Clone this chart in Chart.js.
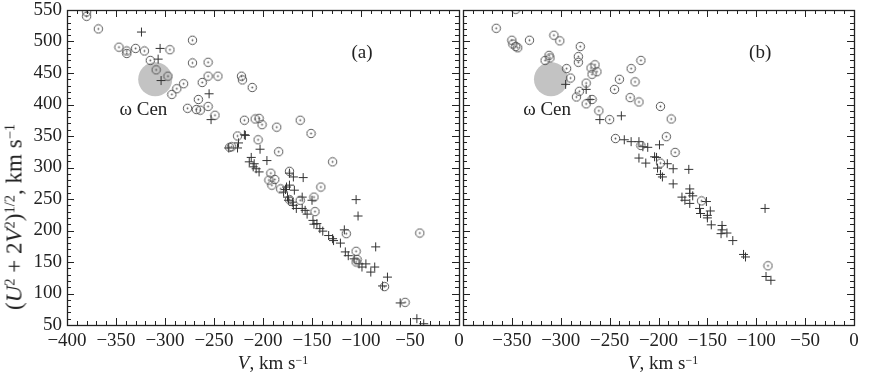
<!DOCTYPE html>
<html><head><meta charset="utf-8">
<script src="https://cdn.jsdelivr.net/npm/chart.js@4"></script>
<style>
body{margin:0;background:#fff;}
#wrap{position:relative;width:871px;height:377px;overflow:hidden;background:#fff;}
canvas{position:absolute;top:-7px;}
.t{position:absolute;font-family:'Liberation Serif','DejaVu Serif',serif;font-size:19px;color:#222;white-space:nowrap;line-height:1;}
.t sup{font-size:0.63em;position:relative;top:-0.45em;vertical-align:baseline;}
</style></head>
<body>
<div id="wrap">
<canvas id="ca" width="480" height="384" style="left:0"></canvas>
<canvas id="cb" width="430" height="384" style="left:441px"></canvas>
<div class="t" id="ytitle" style="left:14px;top:217px;transform:translate(-50%,-50%) rotate(-90deg);font-size:23px;">(<i>U</i><sup>2</sup> + 2<i>V</i><sup>2</sup>)<sup>1/2</sup>, km s<sup>−1</sup></div>
<div class="t" style="left:273px;top:362px;transform:translate(-50%,-50%);"><i>V</i>, km s<sup>−1</sup></div>
<div class="t" style="left:663px;top:362px;transform:translate(-50%,-50%);"><i>V</i>, km s<sup>−1</sup></div>
</div>
<script>
// ---------- data (V, (U^2+2V^2)^1/2 in km/s) ----------
const xTicks = [-400,-350,-300,-250,-200,-150,-100,-50,0];
const yTicks = [50,100,150,200,250,300,350,400,450,500,550];

const omegaCen = {V:-310, S:440};

// panel (a)
const aCircV = [-380,-380,-368,-347,-339,-339,-330,-321,-315,-309,-297,-295,-293,-288,-281,-272,-272,-277,-268,-264,-266,-262,-256,-256,-256,-249,-246,-222,-221,-211,-219,-208,-204,-201,-205,-226,-234,-186,-184,-162,-151,-129,-173,-192,-194,-188,-191,-182,-173,-162,-141,-148,-147,-115,-105,-104,-105,-76,-55,-40,-232];
const aCircS = [547,540,520,491,485,481,489,485,470,455,445,487,416,425,433,502,466,394,392,391,408,435,467,445,397,383,445,445,439,427,375,377,378,368,344,350,332,364,325,375,354,309,294,291,280,281,272,266,249,248,269,253,230,195,167,154,150,111,86,196,333];
const aPlusV = [-324,-305,-307,-304,-255,-253,-235,-226,-225,-219,-218,-203,-212,-214,-209,-207,-204,-210,-196,-173,-169,-159,-177,-179,-176,-173,-168,-175,-174,-170,-169,-166,-160,-160,-157,-150,-155,-149,-148,-145,-142,-139,-133,-129,-128,-121,-117,-105,-103,-116,-113,-107,-102,-99,-95,-90,-86,-85,-73,-78,-60,-43,-36];
const aPlusS = [515,489,472,438,417,376,331,331,339,352,351,329,316,309,306,298,293,301,311,291,285,284,265,261,269,272,264,253,248,245,240,235,253,235,232,248,226,216,210,211,203,199,192,187,184,180,201,249,223,166,160,155,147,142,147,134,142,174,126,112,85,60,52];

// panel (b)
const bCircV = [-346,-366,-350,-349,-346,-344,-332,-307,-301,-312,-311,-316,-280,-282,-282,-294,-290,-265,-269,-263,-268,-274,-281,-284,-274,-268,-261,-250,-240,-245,-228,-224,-229,-220,-218,-198,-187,-192,-183,-244,-218,-198,-156,-88];
const bCircS = [551,521,502,496,492,490,502,510,501,478,474,470,492,476,467,457,442,463,458,452,448,434,421,412,401,408,390,376,440,424,457,436,411,404,470,397,377,349,324,346,335,307,247,144];
const bPlusV = [-295,-274,-270,-260,-238,-235,-228,-220,-216,-211,-199,-220,-213,-204,-202,-191,-201,-198,-196,-185,-185,-169,-168,-168,-165,-176,-173,-168,-151,-158,-157,-150,-147,-150,-146,-135,-135,-130,-136,-124,-113,-111,-91,-90,-85];
const bPlusS = [432,424,408,376,382,344,341,341,333,332,336,315,307,317,316,306,299,289,285,298,274,297,266,259,255,253,248,243,246,235,227,224,231,220,209,208,201,196,195,184,162,158,235,127,121];

// annotation anchors (data coords)
const labelA = {text:'(a)', V:-99, S:481};
const labelB = {text:'(b)', V:-96, S:481};
const cenA = {V:-322, S:391};
const cenB = {V:-314, S:391};

// ---------- drawing ----------
const FONT = "'Liberation Serif','DejaVu Serif',serif";
const mk = (v,s) => v.map((x,i)=>({x:x, y:s[i]}));

const ring = document.createElement('canvas');
ring.width = 11; ring.height = 11;
(function(){
  const c = ring.getContext('2d');
  c.strokeStyle = '#555'; c.lineWidth = 1;
  c.beginPath(); c.arc(5.5,5.5,4.2,0,2*Math.PI); c.stroke();
  c.fillStyle = '#555';
  c.beginPath(); c.arc(5.5,5.5,0.9,0,2*Math.PI); c.fill();
})();

const framePlugin = {
  id:'frame',
  afterDraw(chart, args, o){
    const ctx = chart.ctx, a = chart.chartArea, xs = chart.scales.x, ys = chart.scales.y;
    ctx.save();
    ctx.strokeStyle = '#222'; ctx.lineWidth = 1;
    const line=(x1,y1,x2,y2)=>{ctx.beginPath();ctx.moveTo(x1,y1);ctx.lineTo(x2,y2);ctx.stroke();};
    for (let v = xTicks[0]; v <= xTicks[xTicks.length-1]; v += 10){
      const px = Math.round(xs.getPixelForValue(v)) + 0.5;
      const L = (v % 50 === 0) ? 7 : 4;
      line(px, a.top, px, a.top + L);
      line(px, a.bottom, px, a.bottom - L);
    }
    for (let v = yTicks[0]; v <= yTicks[yTicks.length-1]; v += 10){
      const py = Math.round(ys.getPixelForValue(v)) + 0.5;
      const L = (v % 50 === 0) ? 7 : 4;
      line(a.left, py, a.left + L, py);
      line(a.right, py, a.right - L, py);
    }
    ctx.lineWidth = 1.3;
    ctx.strokeRect(Math.round(a.left)+0.5, Math.round(a.top)+0.5, Math.round(a.right-a.left), Math.round(a.bottom-a.top));
    ctx.fillStyle = '#222';
    ctx.font = '19px ' + FONT;
    ctx.textAlign = 'center'; ctx.textBaseline = 'middle';
    ctx.fillText(o.label.text, xs.getPixelForValue(o.label.V), ys.getPixelForValue(o.label.S));
    ctx.fillText('ω Cen', xs.getPixelForValue(o.cen.V), ys.getPixelForValue(o.cen.S));
    ctx.restore();
  }
};

function makeChart(id, circV, circS, plusV, plusS, label, cen, isLeft){
  const tickFont = {family: FONT, size: 19};
  return new Chart(document.getElementById(id), {
    type:'scatter',
    data:{datasets:[
      {data: mk(circV,circS), pointStyle: ring, pointRadius:5, borderWidth:0},
      {data: mk(plusV,plusS), pointStyle:'cross', pointRadius:4.5, borderColor:'#333', borderWidth:1},
      {data: [{x:omegaCen.V, y:omegaCen.S}], pointStyle:'circle', pointRadius:17, backgroundColor:'#c3c3c3', borderWidth:0}
    ]},
    options:{
      responsive:false, animation:false, events:[],
      plugins:{legend:{display:false}, tooltip:{enabled:false}, frame:{label:label, cen:cen}},
      layout:{padding: isLeft ? {left:0,right:21,top:10,bottom:0} : {left:22,right:14,top:10,bottom:0}},
      scales:{
        x:{type:'linear', min:xTicks[0], max:xTicks[xTicks.length-1],
          afterBuildTicks(s){ s.ticks = xTicks.map(v=>({value:v})); },
          ticks:{autoSkip:false, maxRotation:0, font:tickFont, color:'#222', padding:5,
            callback:(v)=> (!isLeft && v===-400) ? '' : (v===0 ? '0' : '\u2212' + Math.abs(v))},
          grid:{display:false, drawTicks:false}, border:{display:false},
          afterFit(s){ s.height = 52; }},
        y:{type:'linear', min:yTicks[0], max:yTicks[yTicks.length-1], display:isLeft,
          afterBuildTicks(s){ s.ticks = yTicks.map(v=>({value:v})); },
          ticks:{autoSkip:false, font:tickFont, color:'#222', padding:5},
          grid:{display:false, drawTicks:false}, border:{display:false},
          afterFit(s){ if (isLeft) s.width = 67; }}
      }
    },
    plugins:[framePlugin]
  });
}
makeChart('ca', aCircV, aCircS, aPlusV, aPlusS, labelA, cenA, true);
makeChart('cb', bCircV, bCircS, bPlusV, bPlusS, labelB, cenB, false);
</script>
</body></html>
